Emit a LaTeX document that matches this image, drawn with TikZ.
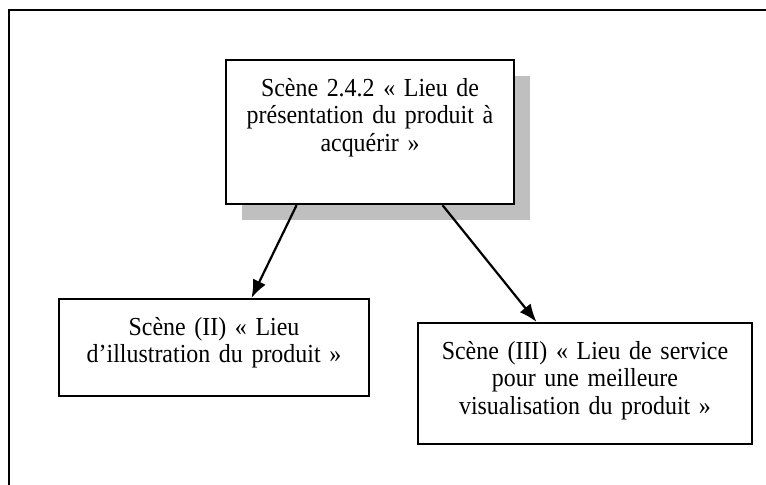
\documentclass[tikz,border=0pt]{standalone}
\usepackage{fontspec}
\setmainfont{Liberation Serif}[FakeStretch=0.92]
\usetikzlibrary{arrows.meta,calc,shadows}
\begin{document}
\begin{tikzpicture}
	[x=0.5pt,y=-0.5pt,
	 scene/.style={draw,line width=1.1pt,fill=white,align=center,inner sep=0pt,text height=18pt,anchor=north,font=\fontsize{13}{13.8}\selectfont},
	 >={Latex[length=9pt,width=7pt]}]
    \useasboundingbox (0,0) rectangle (766,484);
    \draw[line width=1.1pt] (9,10) rectangle (780,500);
    \node[scene,text width=144pt,text depth=54pt,
      drop shadow={shadow xshift=8pt,shadow yshift=-8pt,fill=black!25,opacity=1}]
      (main) at (370,59) {Scène 2.4.2 « Lieu de\\présentation du produit à\\acquérir »};
    \node[scene,text width=155pt,text depth=30.5pt] (illus) at (214,298) {Scène (II) « Lieu\\d’illustration du produit »};
    \node[scene,text width=167pt,text depth=42.5pt] (serv) at (585,322) {Scène (III) « Lieu de service\\pour une meilleure\\visualisation du produit »};
    \draw [line width=1.1pt,->] ($(main.south west)!0.247!(main.south east)$) -- ($(illus.north west)!0.62!(illus.north east)$);
    \draw [line width=1.1pt,->] ($(main.south west)!0.75!(main.south east)$) -- ($(serv.north west)!0.356!(serv.north east)$);
\end{tikzpicture}
\end{document}
